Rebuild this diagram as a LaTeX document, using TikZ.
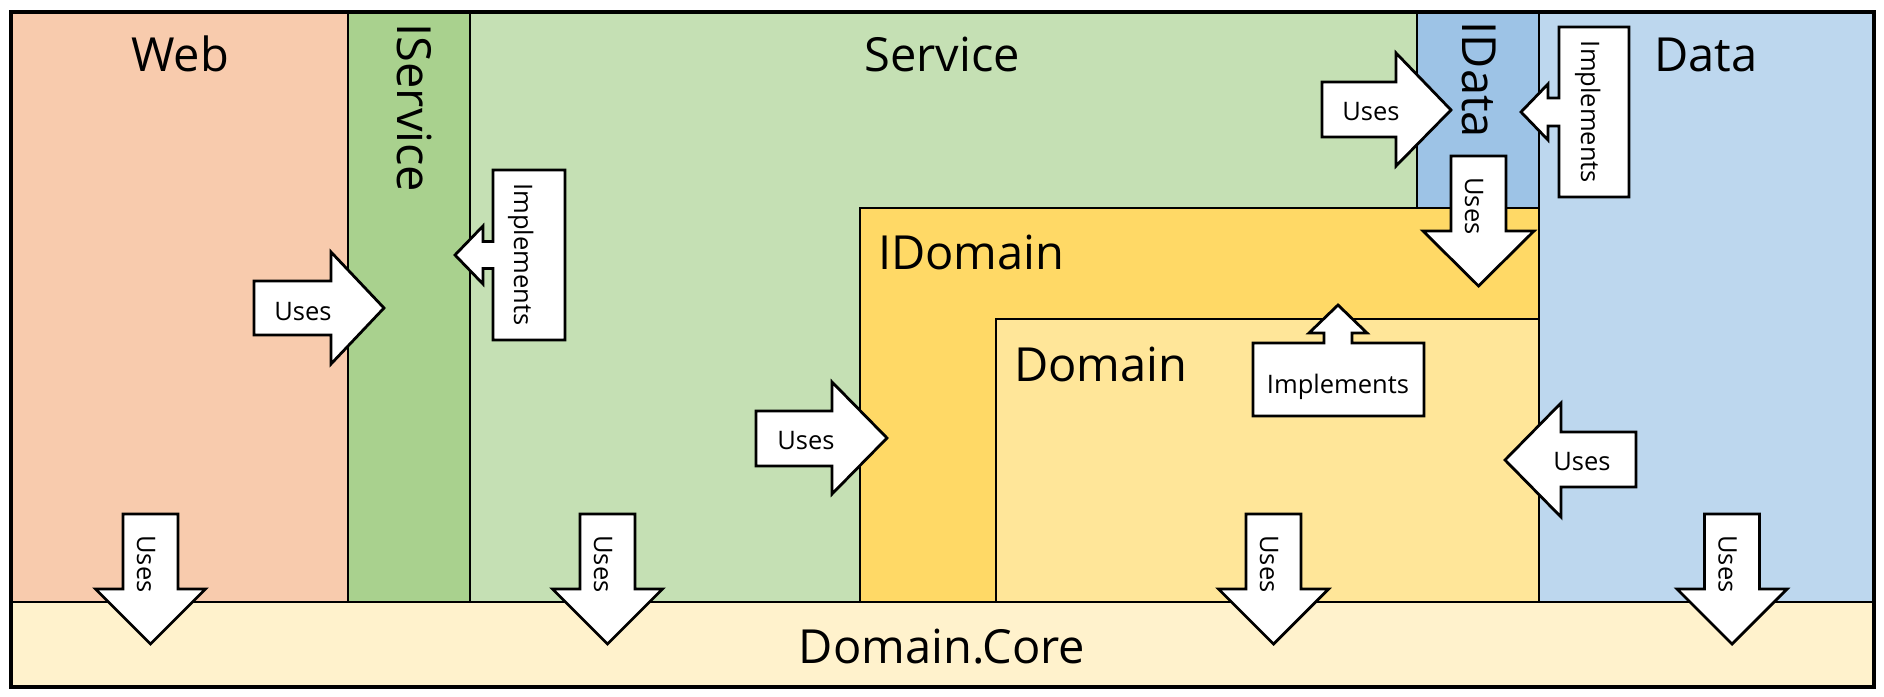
\documentclass[tikz,border=0pt]{standalone}
\usepackage{fontspec}
\setmainfont{Open Sans}
\definecolor{webc}{HTML}{F8CBAD}
\definecolor{iservc}{HTML}{A9D18E}
\definecolor{servc}{HTML}{C5E0B4}
\definecolor{idatac}{HTML}{9DC3E6}
\definecolor{datac}{HTML}{BDD7EE}
\definecolor{idomc}{HTML}{FFD966}
\definecolor{domc}{HTML}{FFE699}
\definecolor{corec}{HTML}{FFF2CC}
\newcommand\UsesDown[2]{%
  \begin{scope}[shift={(#1,0)}]
    \draw[blockarrow] (-27.5,514) -- (27.5,514) -- (27.5,589) -- (55,589) -- (0,644) -- (-55,589) -- (-27.5,589) -- cycle;
    \node[smalltext, rotate=-90, anchor=base] (#2) at (-13.5,564) {Uses};
  \end{scope}}
\begin{document}
\begin{tikzpicture}[x=1pt,y=-1pt,
  region/.style={draw=black, line width=2.5pt},
  outerline/.style={draw=black, line width=3.2pt},
  blockarrow/.style={draw=black, fill=white, line width=2.8pt, line join=miter},
  bigtext/.style={font=\fontsize{47}{50}\selectfont, inner sep=0pt},
  smalltext/.style={font=\fontsize{25.5}{28}\selectfont, inner sep=0pt}]
\useasboundingbox[fill=white] (0,0) rectangle (1884,696);
% region fills
\fill[webc] (11,12) rectangle (348,602);
\fill[iservc] (348,12) rectangle (470,602);
\fill[servc] (470,12) rectangle (1417,602);
\fill[idatac] (1417,12) rectangle (1539,208);
\fill[datac] (1539,12) rectangle (1874,602);
\fill[idomc] (860,208) rectangle (1539,602);
\fill[domc] (996,319) rectangle (1539,602);
\fill[corec] (11,602) rectangle (1874,687);
% region lines
\draw[region] (348,12) -- (348,602);
\draw[region] (470,12) -- (470,602);
\draw[region] (1417,12) -- (1417,208);
\draw[region] (1539,12) -- (1539,602);
\draw[region] (860,602) -- (860,208) -- (1539,208);
\draw[region] (996,602) -- (996,319) -- (1539,319);
\draw[region] (11,602) -- (1874,602);
\draw[outerline] (11,12) rectangle (1874,687);
% labels
\node[bigtext, anchor=base] (web) at (180,71) {Web};
\node[bigtext, anchor=base] (service) at (942,71) {Service};
\node[bigtext, anchor=base] (data) at (1706,71) {Data};
\node[bigtext, anchor=base] (core) at (942,663) {Domain.Core};
\node[bigtext, anchor=base west] (idomain) at (878,269) {IDomain};
\node[bigtext, anchor=base west] (domain) at (1014,381) {Domain};
\node[bigtext, anchor=base, rotate=-90] (iservice) at (397,108) {IService};
\node[bigtext, anchor=base, rotate=-90] (idata) at (1462,80) {IData};
% Web uses IService
\draw[blockarrow] (254,281) -- (331,281) -- (331,252) -- (384,308) -- (331,364) -- (331,335) -- (254,335) -- cycle;
\node[smalltext, anchor=base] (u1) at (303,320) {Uses};
% Service implements IService
\draw[blockarrow] (565,170) -- (565,340) -- (493,340) -- (493,268.5) -- (483,268.5) -- (483,284) -- (455,255) -- (483,226) -- (483,241.5) -- (493,241.5) -- (493,170) -- cycle;
\node[smalltext, anchor=base, rotate=-90] (i1) at (514,254.5) {Implements};
% Service uses IData
\draw[blockarrow] (1322,82) -- (1396,82) -- (1396,53) -- (1451,110) -- (1396,166) -- (1396,137) -- (1322,137) -- cycle;
\node[smalltext, anchor=base] (u2) at (1371,120) {Uses};
% Data implements IData
\draw[blockarrow] (1629,27) -- (1629,197) -- (1559,197) -- (1559,126) -- (1548,126) -- (1548,140) -- (1521,112) -- (1548,84) -- (1548,98) -- (1559,98) -- (1559,27) -- cycle;
\node[smalltext, anchor=base, rotate=-90] (i2) at (1581,112) {Implements};
% IData uses IDomain
\draw[blockarrow] (1451,156) -- (1506,156) -- (1506,231) -- (1534,231) -- (1478.5,286) -- (1423,231) -- (1451,231) -- cycle;
\node[smalltext, anchor=base, rotate=-90] (u3) at (1465,206) {Uses};
% Service uses IDomain
\draw[blockarrow] (756,411) -- (832,411) -- (832,382) -- (887,438) -- (832,494) -- (832,466) -- (756,466) -- cycle;
\node[smalltext, anchor=base] (u4) at (806,449) {Uses};
% Domain implements IDomain
\draw[blockarrow] (1253,343) -- (1324,343) -- (1324,333) -- (1309,333) -- (1338,305) -- (1367,333) -- (1352,333) -- (1352,343) -- (1424,343) -- (1424,416) -- (1253,416) -- cycle;
\node[smalltext, anchor=base] (i3) at (1338,393) {Implements};
% Data uses Domain
\draw[blockarrow] (1636,432) -- (1636,487) -- (1561,487) -- (1561,517) -- (1505,460) -- (1561,403) -- (1561,432) -- cycle;
\node[smalltext, anchor=base] (u5) at (1582,470) {Uses};
% uses Domain.Core
\UsesDown{150.5}{d1}
\UsesDown{607.5}{d2}
\UsesDown{1273.5}{d3}
\UsesDown{1732}{d4}
\end{tikzpicture}
\end{document}
